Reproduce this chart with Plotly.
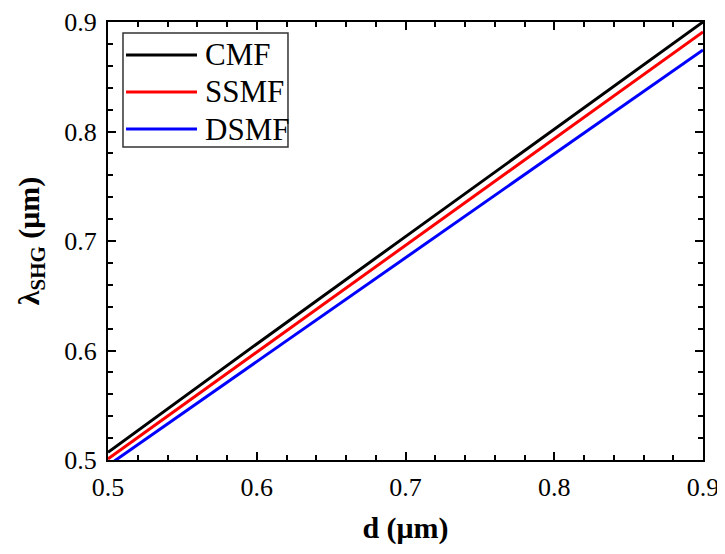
import plotly.graph_objects as go

d_um = [0.5, 0.6, 0.7, 0.8, 0.9]
cmf = [0.507, 0.606, 0.704, 0.802, 0.900]
ssmf = [0.501, 0.5985, 0.696, 0.7935, 0.891]
dsmf = [0.495, 0.590, 0.6847, 0.7796, 0.8744]

series_names = ["CMF", "SSMF", "DSMF"]
series_values = [cmf, ssmf, dsmf]
series_colors = ["#000000", "#ff0000", "#0000ff"]

font_family = "Liberation Serif, Times New Roman, serif"

fig = go.Figure()
for name, ys, col in zip(series_names, series_values, series_colors):
    fig.add_trace(go.Scatter(x=d_um, y=ys, mode="lines", name=name,
                             line=dict(color=col, width=3), showlegend=False))

axis_common = dict(
    showgrid=False, zeroline=False, automargin=False,
    showline=True, linecolor="black", linewidth=2,
    mirror="allticks", ticks="inside", ticklen=8, tickwidth=2, tickcolor="black",
    tickfont=dict(family=font_family, size=26, color="black"),
    dtick=0.1, tickformat=".1f",
    minor=dict(dtick=0.02, ticks="inside", ticklen=5, tickwidth=1.5, tickcolor="black", showgrid=False),
)

fig.update_xaxes(range=[0.5, 0.9], tick0=0.5, ticklabelstandoff=3,
                 title=dict(text="<b>d (μm)</b>", font=dict(family=font_family, size=30, color="black"), standoff=16),
                 **axis_common)
fig.update_yaxes(range=[0.5, 0.9], tick0=0.5, ticklabelstandoff=4,
                 title=dict(text="<b>λ<sub>SHG</sub> (μm)</b>", font=dict(family=font_family, size=30, color="black"), standoff=16),
                 **axis_common)

# Manual legend (box, line samples, labels) in paper coordinates
fig.add_shape(type="rect", xref="paper", yref="paper", x0=0.0252, x1=0.3025, y0=0.7146, y1=0.975,
              line=dict(color="#333333", width=1.5), fillcolor="white", layer="above")
row_y = [0.9247, 0.8402, 0.7557]
for name, col, yy in zip(series_names, series_colors, row_y):
    fig.add_shape(type="line", xref="paper", yref="paper", x0=0.0303, x1=0.1496, y0=yy, y1=yy,
                  line=dict(color=col, width=3), layer="above")
    fig.add_annotation(xref="paper", yref="paper", x=0.1600, y=yy, xanchor="left", yanchor="middle",
                       text=name, showarrow=False,
                       font=dict(family=font_family, size=31, color="black"))

fig.update_layout(
    template="none",
    width=717, height=546,
    margin=dict(l=100, r=22, t=14, b=94),
    plot_bgcolor="white", paper_bgcolor="white",
    font=dict(family=font_family, color="black"),
    showlegend=False,
)

fig.write_html("out.html")
